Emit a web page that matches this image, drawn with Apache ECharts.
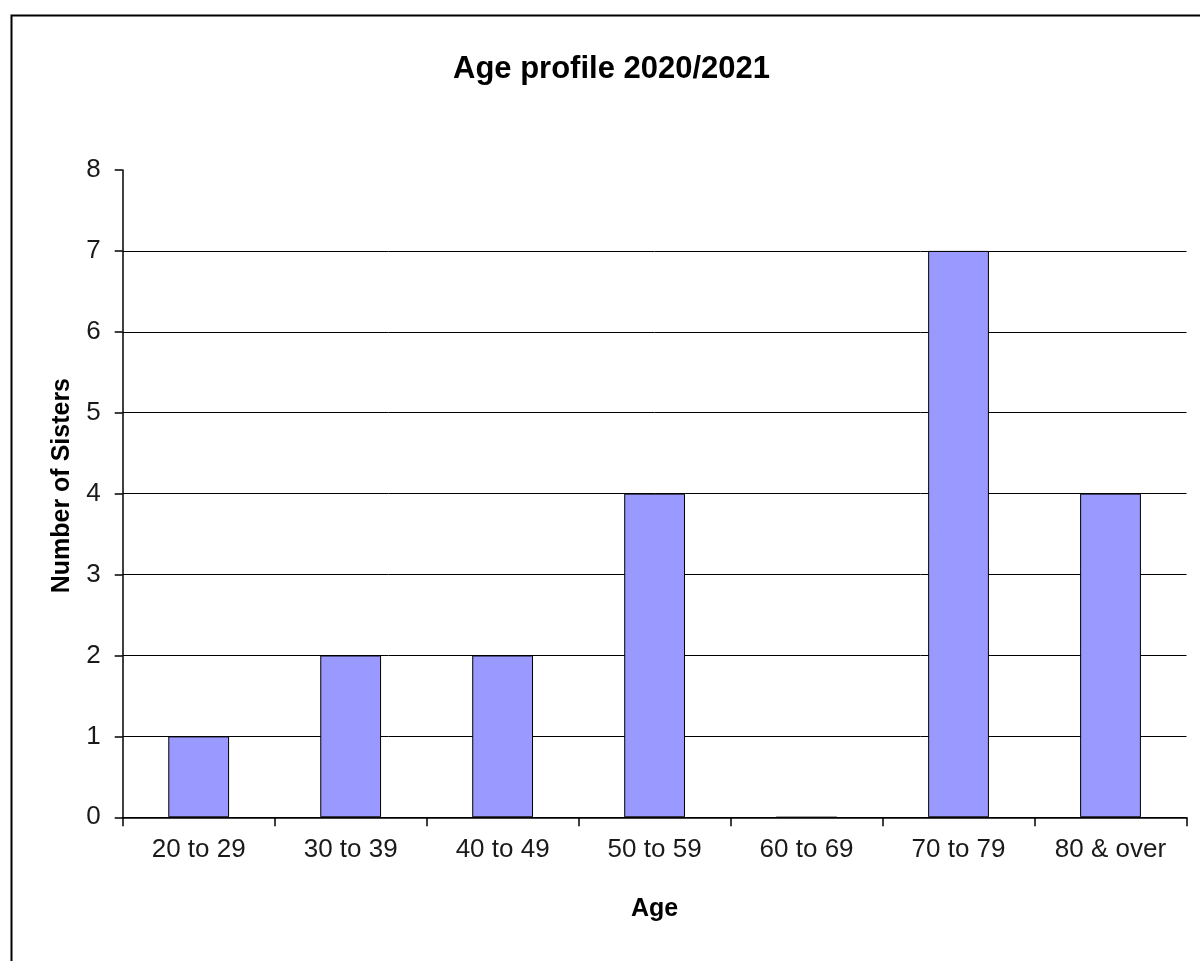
<!DOCTYPE html>
<html>
<head>
<meta charset="utf-8">
<script src="https://cdn.jsdelivr.net/npm/echarts@6/dist/echarts.min.js"></script>
<style>
html,body{margin:0;padding:0;background:#fff;}
#chart{width:1200px;height:961px;}
</style>
</head>
<body>
<div id="chart"></div>
<script>
const titleText = 'Age profile 2020/2021';
const categories = ['20 to 29', '30 to 39', '40 to 49', '50 to 59', '60 to 69', '70 to 79', '80 & over'];
const sisters = [1, 2, 2, 4, 0, 7, 4];
const yAxisName = 'Number of Sisters';
const xAxisName = 'Age';

const chart = echarts.init(document.getElementById('chart'), null, {renderer: 'canvas'});
const font = 'Liberation Sans, Arial, sans-serif';
chart.setOption({
  animation: false,
  backgroundColor: '#fff',
  graphic: [{
    type: 'rect',
    shape: {x: 11.5, y: 15.5, width: 1300, height: 1100},
    style: {fill: 'none', stroke: '#000', lineWidth: 2},
    silent: true,
    z: -10
  }],
  title: {
    text: titleText,
    left: 453,
    top: 54,
    padding: 0,
    textStyle: {fontFamily: font, fontSize: 31, fontWeight: 'bold', color: '#000'}
  },
  grid: {left: 122.7, right: 13.5, top: 170, bottom: 143.7, containLabel: false},
  xAxis: {
    type: 'category',
    data: categories,
    boundaryGap: true,
    name: xAxisName,
    nameLocation: 'middle',
    nameGap: 79,
    nameTextStyle: {fontFamily: font, fontSize: 25, fontWeight: 'bold', color: '#000'},
    axisLine: {show: true, lineStyle: {color: '#000', width: 1.5}},
    axisTick: {show: true, inside: false, length: 9, lineStyle: {color: '#000', width: 1.5}},
    axisLabel: {fontFamily: font, fontSize: 26, color: '#1a1a1a', margin: 20, interval: 0},
    splitLine: {show: false}
  },
  yAxis: {
    type: 'value',
    min: 0,
    max: 8,
    interval: 1,
    name: yAxisName,
    nameLocation: 'middle',
    nameGap: 48,
    nameTextStyle: {fontFamily: font, fontSize: 25, fontWeight: 'bold', color: '#000', padding: [0, 0, 0, 16]},
    axisLine: {show: true, lineStyle: {color: '#000', width: 1.5}},
    axisTick: {show: true, inside: false, length: 8, lineStyle: {color: '#000', width: 1.5}},
    axisLabel: {fontFamily: font, fontSize: 26, color: '#1a1a1a', margin: 22},
    splitLine: {show: true, showMaxLine: false, lineStyle: {color: '#000', width: 1}}
  },
  series: [{
    type: 'bar',
    data: sisters,
    barWidth: '40%',
    itemStyle: {color: '#9999FF', borderColor: '#000', borderWidth: 1}
  }]
});
</script>
</body>
</html>
